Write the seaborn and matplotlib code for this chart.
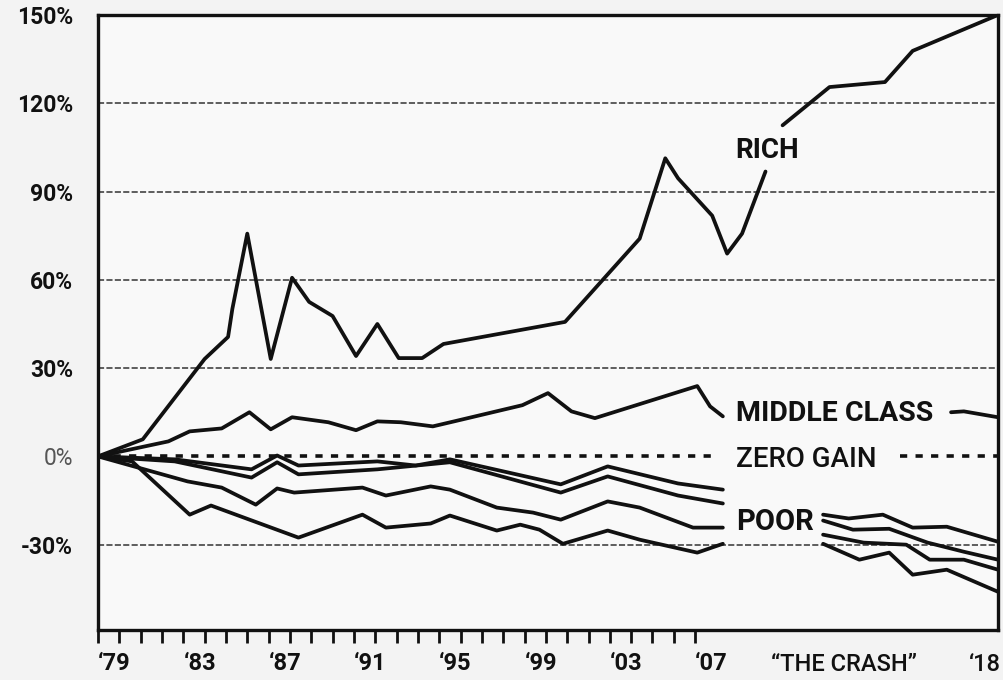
import numpy as np
import pandas as pd
import matplotlib
matplotlib.use('Agg')
import matplotlib.pyplot as plt
import seaborn as sns

# values (x = position in years, y = % change since 1979)
rich_years_a = [1979.0, 1981.1, 1982.8, 1984.0, 1985.1, 1985.3, 1986.0, 1987.1, 1988.1, 1988.9, 1990.0,
                1991.1, 1992.1, 1993.1, 1994.2, 1995.2, 2000.9, 2004.4, 2005.6, 2006.2, 2007.8, 2008.5,
                2009.2, 2010.3]
rich_vals_a = [0, 5.8, 21.8, 33.1, 40.6, 50.1, 75.7, 33.1, 60.7, 52.5, 47.7,
               34.1, 45.0, 33.4, 33.4, 38.2, 45.7, 74.0, 101.3, 94.5, 81.8, 68.9,
               75.7, 96.8]
rich_years_b = [2011.1, 2013.3, 2015.9, 2017.2, 2021.2]
rich_vals_b = [112.5, 125.5, 127.2, 137.8, 150.0]

middle_years_a = [1979.0, 1982.3, 1983.3, 1984.8, 1986.1, 1987.1, 1988.1, 1989.8, 1991.1, 1992.1,
                  1993.2, 1994.7, 1995.7, 1998.9, 2000.1, 2001.2, 2002.3, 2007.1, 2007.7, 2008.3]
middle_vals_a = [0, 5.1, 8.5, 9.5, 15.0, 9.2, 13.3, 11.6, 8.9, 11.9,
                 11.6, 10.2, 11.9, 17.4, 21.5, 15.3, 13.0, 23.9, 17.0, 13.6]
middle_years_b = [2019.0, 2019.6, 2021.2]
middle_vals_b = [15.0, 15.3, 13.3]

zero_years_a = [1979.0, 2007.8]
zero_years_b = [2016.6, 2021.2]

poor1_years = [1979.0, 1982.6, 1986.2, 1987.4, 1988.4, 1992.1, 1993.9, 1995.5, 2000.7, 2002.9, 2006.2, 2008.3]
poor1_vals = [0, -1.0, -4.4, 0.3, -3.1, -1.7, -3.1, -1.0, -9.5, -3.4, -9.2, -11.3]
poor2_years = [1979.0, 1982.6, 1986.2, 1987.4, 1988.4, 1992.1, 1995.5, 2000.7, 2002.9, 2006.2, 2008.3]
poor2_vals = [0, -1.7, -7.2, -2.0, -6.1, -4.4, -2.0, -12.3, -6.8, -13.3, -16.0]
poor3_years = [1979.0, 1983.2, 1984.8, 1986.4, 1987.4, 1988.2, 1991.4, 1992.5, 1994.6, 1995.5, 1997.7,
               1999.4, 2000.7, 2002.9, 2004.4, 2006.9, 2008.3]
poor3_vals = [0, -8.5, -10.6, -16.4, -10.9, -12.3, -10.6, -13.3, -10.2, -11.3, -17.4,
              -19.1, -21.5, -15.3, -17.4, -24.2, -24.2]
poor4_years = [1979.0, 1980.6, 1983.3, 1984.3, 1988.4, 1991.4, 1992.5, 1994.6, 1995.5, 1997.7, 1998.8,
               1999.7, 2000.8, 2002.9, 2004.4, 2007.1, 2008.3]
poor4_vals = [0, -1.7, -19.8, -16.7, -27.6, -19.8, -24.2, -22.8, -20.1, -25.2, -23.2,
              -24.9, -29.7, -25.2, -28.3, -32.7, -29.7]

crash1_years = [2013.0, 2014.2, 2015.8, 2017.2, 2018.8, 2021.2]
crash1_vals = [-19.8, -21.1, -19.8, -24.2, -23.9, -29.0]
crash2_years = [2013.0, 2014.4, 2016.1, 2017.9, 2019.6, 2021.2]
crash2_vals = [-21.8, -24.9, -24.6, -29.3, -32.4, -35.1]
crash3_years = [2013.0, 2014.9, 2016.9, 2018.0, 2019.6, 2021.2]
crash3_vals = [-26.6, -29.3, -30.0, -35.1, -35.1, -38.5]
crash4_years = [2013.0, 2014.7, 2016.1, 2017.2, 2018.8, 2021.2]
crash4_vals = [-29.7, -35.1, -32.7, -40.2, -38.5, -46.0]

grid_vals = [120, 90, 60, 30, -30]
ytick_vals = [150, 120, 90, 60, 30, 0, -30]
ytick_labels = ['150%', '120%', '90%', '60%', '30%', '0%', '-30%']
xtick_years = list(range(1979, 2008))
xlabel_years = [1979, 1983, 1987, 1991, 1995, 1999, 2003, 2007]
xlabel_texts = ['\u201879', '\u201883', '\u201887', '\u201891', '\u201895', '\u201899', '\u201803', '\u201807']

sns.set_style('white')
plt.rcParams['font.family'] = ['Roboto', 'DejaVu Sans']

fig = plt.figure(figsize=(10.04, 6.8), dpi=100, facecolor='#f3f3f3')
ax = fig.add_axes([0.0976, 0.0735, 0.8964, 0.9045])
ax.set_facecolor('#f9f9f9')

ink = '#111111'

# dashed gridlines
for g in grid_vals:
    ax.axhline(g, color='#333333', lw=1.1, ls=(0, (4, 1.5)), zorder=1)

# zero-gain reference
for zx in [zero_years_a, zero_years_b]:
    sns.lineplot(x=zx, y=[0, 0], ax=ax, color=ink, lw=2.6, zorder=2)
for l in ax.lines[-2:]:
    l.set_dashes((2.0, 2.3))

segments = [
    (rich_years_a, rich_vals_a), (rich_years_b, rich_vals_b),
    (middle_years_a, middle_vals_a), (middle_years_b, middle_vals_b),
    (poor1_years, poor1_vals), (poor2_years, poor2_vals),
    (poor3_years, poor3_vals), (poor4_years, poor4_vals),
    (crash1_years, crash1_vals), (crash2_years, crash2_vals),
    (crash3_years, crash3_vals), (crash4_years, crash4_vals),
]
for xs, ys in segments:
    sns.lineplot(x=xs, y=ys, ax=ax, color=ink, lw=2.7, sort=False, estimator=None, zorder=3)

# direct labels
ax.text(2008.9, 104, 'RICH', fontsize=20, fontweight='bold', color=ink, va='center', ha='left')
ax.text(2008.9, 14.5, 'MIDDLE CLASS', fontsize=20.5, fontweight='bold', color=ink, va='center', ha='left')
ax.text(2008.9, -1, 'ZERO GAIN', fontsize=20, fontweight='medium', color=ink, va='center', ha='left')
ax.text(2008.9, -22.2, 'POOR', fontsize=21, fontweight='bold', color=ink, va='center', ha='left')

ax.set_xlim(1979, 2021.2)
ax.set_ylim(-59, 150)

ax.set_yticks(ytick_vals)
ax.set_yticklabels(ytick_labels, fontsize=16.5, fontweight='bold', color=ink)
ax.yaxis.get_ticklabels()[5].set_color('#555555')
ax.yaxis.get_ticklabels()[5].set_fontweight('normal')
ax.tick_params(axis='y', length=0, pad=18)

ax.set_xticks(xtick_years)
ax.set_xticklabels([xlabel_texts[xlabel_years.index(y)] if y in xlabel_years else '' for y in xtick_years],
                   fontsize=17, fontweight='bold', color=ink, ha='left')
ax.tick_params(axis='x', direction='out', length=9, width=2, color=ink, pad=7, bottom=True)

ax.text(2014.0, -0.056, '\u201cTHE CRASH\u201d', transform=ax.get_xaxis_transform(), fontsize=17,
        fontweight='medium', color=ink, ha='center', va='center')
ax.text(2021.35, -0.056, '\u201818', transform=ax.get_xaxis_transform(), fontsize=17,
        fontweight='medium', color=ink, ha='right', va='center')

for side in ['left', 'right', 'top', 'bottom']:
    ax.spines[side].set_visible(True)
    ax.spines[side].set_color(ink)
    ax.spines[side].set_linewidth(2.4)
ax.set_xlabel('')
ax.set_ylabel('')

fig.savefig('out.png', dpi=100, facecolor=fig.get_facecolor())
